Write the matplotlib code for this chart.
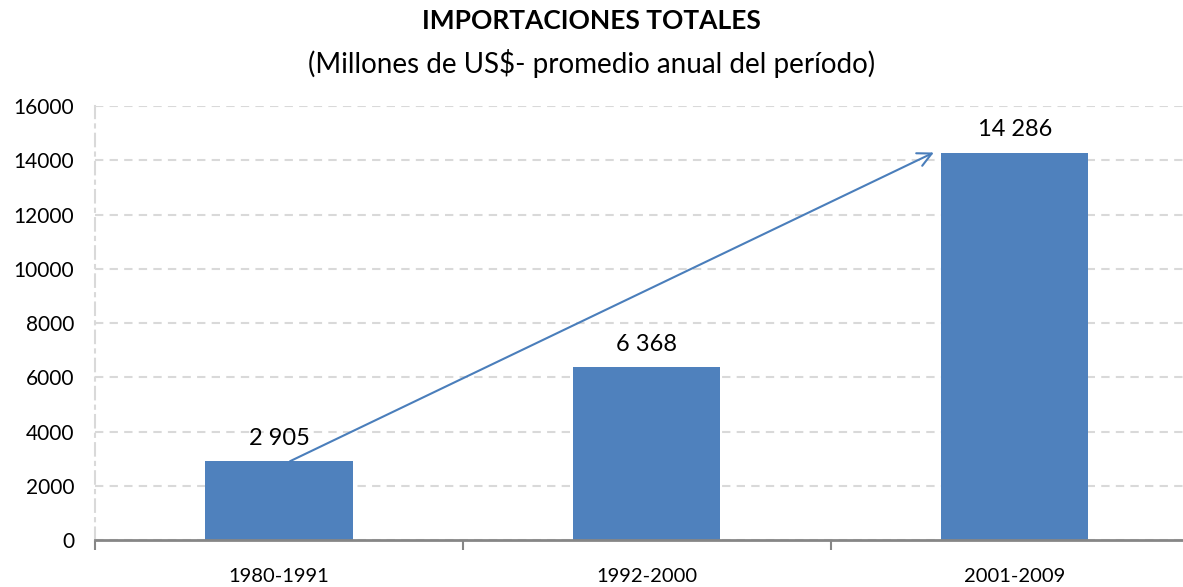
import matplotlib
matplotlib.use("Agg")
from matplotlib import pyplot as plt

# data
periods = ["1980-1991", "1992-2000", "2001-2009"]
imports = [2905, 6368, 14286]
value_labels = ["2 905", "6 368", "14 286"]
y_ticks = [0, 2000, 4000, 6000, 8000, 10000, 12000, 14000, 16000]

plt.rcParams['font.family'] = ['Lato', 'DejaVu Sans']

fig = plt.figure(figsize=(11.83, 5.87), dpi=100)
ax = fig.add_axes([0.0803, 0.080, 0.933, 0.7394])

x = list(range(len(periods)))
ax.bar(x, imports, width=0.4, color="#4f81bd", zorder=3)

for xi, v, lab in zip(x, imports, value_labels):
    ax.text(xi, v + 450, lab, ha="center", va="bottom", fontsize=17, color="black")

# trend arrow from first bar top to the third one
ax.annotate("", xy=(1.78, imports[2]), xytext=(0.03, imports[0]),
            arrowprops=dict(arrowstyle="->", color="#4a7ebb", lw=1.5,
                            mutation_scale=25, shrinkA=0, shrinkB=0),
            zorder=4)

ax.set_xlim(-0.5, 2.5)
ax.set_ylim(0, 16000)
ax.set_yticks(y_ticks)
ax.set_yticklabels([str(t) for t in y_ticks], fontsize=15)
ax.set_xticks([-0.5, 0.5, 1.5, 2.5])
ax.set_xticklabels([])
ax.set_xticks(x, minor=True)
ax.set_xticklabels(periods, minor=True, fontsize=14.5)
ax.tick_params(axis="x", which="major", direction="out", length=7, color="#868686", width=1.5)
ax.tick_params(axis="x", which="minor", length=0, pad=20)
ax.tick_params(axis="y", length=0, pad=15)

ax.grid(axis="y", linestyle=(0, (4, 3)), color="#d9d9d9", lw=1.5, zorder=0)
for s in ["top", "right"]:
    ax.spines[s].set_visible(False)
ax.spines["left"].set_color("#d9d9d9")
ax.spines["left"].set_linestyle((0, (6, 3, 1.5, 3)))
ax.spines["left"].set_linewidth(1.5)
ax.spines["bottom"].set_color("#868686")
ax.spines["bottom"].set_linewidth(2)
ax.spines["bottom"].set_zorder(5)

fig.text(0.5, 0.965, "IMPORTACIONES TOTALES", ha="center", va="center",
         fontsize=19, fontweight="bold")
fig.text(0.5, 0.891, "(Millones de US$- promedio anual del período)", ha="center",
         va="center", fontsize=20)

fig.savefig("out.png", dpi=100)
